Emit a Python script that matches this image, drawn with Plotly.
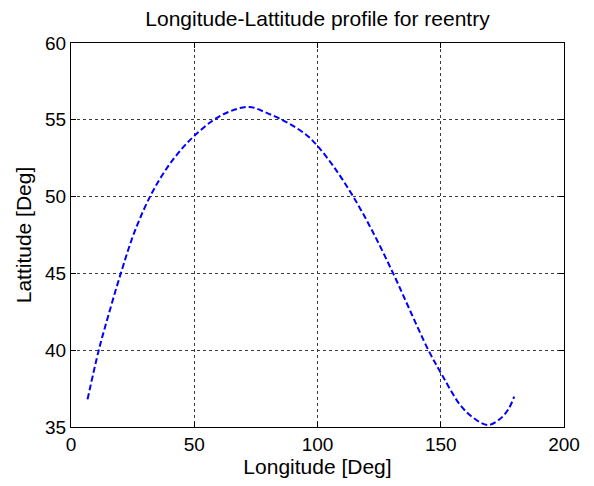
import plotly.graph_objects as go

# Ground track of the reentry trajectory (degrees)
longitude = [6.7, 11.1, 13.8, 20.2, 26.0, 32.7, 39.1, 44.9, 50.0, 57.5, 64.5,
             72.3, 79.4, 88.2, 95.6, 100.0, 107.0, 114.5, 122.6, 130.7, 137.5,
             145.0, 150.5, 157.8, 163.2, 169.2, 174.0, 177.4, 179.8]
latitude = [36.8, 39.9, 41.5, 45.0, 47.8, 50.2, 51.9, 53.1, 53.95, 54.95, 55.55,
            55.84, 55.45, 54.78, 54.0, 53.3, 51.85, 50.0, 47.65, 45.0, 42.6,
            40.0, 38.4, 36.45, 35.6, 35.13, 35.52, 36.15, 36.97]

x_ticks = [0, 50, 100, 150, 200]
y_ticks = [35, 40, 45, 50, 55, 60]

font_family = "Liberation Sans, Arial, sans-serif"

fig = go.Figure(
    go.Scatter(
        x=longitude,
        y=latitude,
        mode="lines",
        line=dict(color="#0000ff", width=2, dash="6px,3px", shape="spline",
                  smoothing=1.0),
        hoverinfo="skip",
    )
)

axis_common = dict(
    showline=True,
    linecolor="black",
    linewidth=1,
    mirror="allticks",
    ticks="inside",
    ticklen=5,
    tickcolor="black",
    showgrid=True,
    gridcolor="#3a3a3a",
    gridwidth=1,
    griddash="3px,3px",
    zeroline=False,
    tickfont=dict(family=font_family, size=19, color="black"),
)

fig.update_xaxes(
    range=[0, 200],
    tickvals=x_ticks,
    ticktext=[str(v) for v in x_ticks],
    title=dict(text="Longitude [Deg]",
               font=dict(family=font_family, size=21, color="black"),
               standoff=3),
    **axis_common,
)
fig.update_yaxes(
    range=[35, 60],
    tickvals=y_ticks,
    ticktext=[str(v) for v in y_ticks],
    title=dict(text="Lattitude [Deg]",
               font=dict(family=font_family, size=21, color="black"),
               standoff=7),
    **axis_common,
)

fig.update_layout(
    width=594,
    height=486,
    margin=dict(l=71, r=30, t=43, b=59),
    paper_bgcolor="white",
    plot_bgcolor="white",
    showlegend=False,
    title=dict(
        text="Longitude-Lattitude profile for reentry",
        font=dict(family=font_family, size=21, color="black"),
        x=0.5,
        xref="paper",
        xanchor="center",
        y=1 - 19 / 486,
        yref="container",
        yanchor="middle",
    ),
)

fig.write_html("out.html")
